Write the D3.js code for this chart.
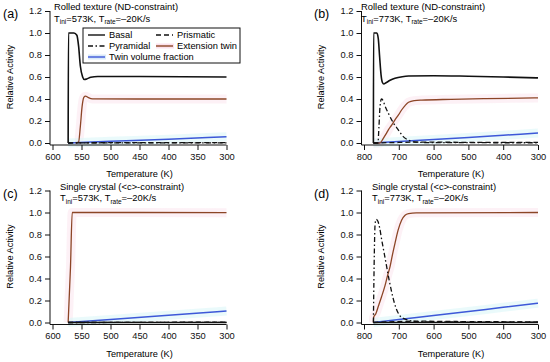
<!DOCTYPE html>
<html>
<head>
<meta charset="utf-8">
<script src="https://cdn.jsdelivr.net/npm/d3@7"></script>
<style>
    body { margin: 0; background: white; }
    svg { font-family: "Liberation Sans", Arial, sans-serif; }
</style>
</head>
<body>
<script>
// values: [temperature K, relative activity]
const aBasal = [[573, 0], [572.5, 1.0], [563, 1.0], [558, 0.98], [555, 0.88], [552, 0.7], [548, 0.6], [545, 0.577], [541, 0.582], [534, 0.598], [522, 0.605], [450, 0.604], [300, 0.6]]
const aPrism = [[573, 0], [540, 0.002], [450, 0.003], [300, 0.003]]
const aPyr = [[573, 0], [540, 0.001], [300, 0.001]]
const aTwin = [[560, 0], [555, 0.01], [552, 0.15], [549, 0.33], [546, 0.415], [543, 0.426], [539, 0.415], [531, 0.401], [450, 0.4], [300, 0.4]]
const aVol = [[573, 0], [500, 0.015], [400, 0.035], [300, 0.056]]

const bBasal = [[773, 0], [772.5, 1.0], [763, 1.0], [759, 0.95], [755, 0.78], [751, 0.62], [747, 0.55], [743, 0.537], [738, 0.545], [725, 0.57], [711, 0.588], [690, 0.603], [672, 0.609], [600, 0.612], [500, 0.607], [400, 0.6], [300, 0.592]]
const bPrism = [[773, 0], [700, 0.005], [650, 0.008], [500, 0.006], [300, 0.005]]
const bPyr = [[773, 0], [760, 0], [757, 0.15], [754, 0.33], [750, 0.4], [746, 0.39], [740, 0.34], [730, 0.27], [715, 0.18], [701, 0.118], [688, 0.06], [673, 0.027], [655, 0.01], [620, 0.004], [300, 0.002]]
const bTwin = [[773, 0], [754, 0], [745, 0.04], [737, 0.08], [730, 0.12], [720, 0.165], [711, 0.21], [700, 0.26], [692, 0.3], [682, 0.34], [672, 0.37], [655, 0.385], [634, 0.39], [550, 0.397], [450, 0.403], [300, 0.41]]
const bVol = [[773, 0], [700, 0.013], [600, 0.031], [500, 0.05], [400, 0.07], [300, 0.09]]

const cBasal = [[573, 0], [300, 0]]
const cPrism = [[573, 0], [300, 0.003]]
const cPyr = [[573, 0], [300, 0.001]]
const cTwin = [[573, 0], [569, 0.5], [566, 1.0], [450, 1.0], [300, 0.998]]
const cVol = [[573, 0], [500, 0.027], [400, 0.065], [300, 0.105]]

const dBasal = [[773, 0], [300, 0]]
const dPrism = [[773, 0], [690, 0.01], [650, 0.012], [500, 0.008], [300, 0.006]]
const dPyr = [[773, 0], [771, 0.5], [768, 0.9], [765, 0.937], [760, 0.92], [755, 0.86], [749, 0.75], [742, 0.63], [735, 0.51], [728, 0.39], [720, 0.27], [712, 0.17], [704, 0.1], [695, 0.055], [685, 0.035], [677, 0.025], [660, 0.012], [620, 0.006], [300, 0.003]]
const dTwin = [[773, 0], [772, 0.05], [766, 0.08], [759, 0.145], [750, 0.23], [740, 0.33], [732, 0.43], [725, 0.51], [718, 0.62], [711, 0.72], [702, 0.84], [692, 0.93], [682, 0.975], [672, 0.99], [650, 0.997], [300, 1.0]]
const dVol = [[773, 0], [700, 0.027], [600, 0.063], [500, 0.1], [400, 0.138], [300, 0.175]]

const yTicks = [0, 0.2, 0.4, 0.6, 0.8, 1.0, 1.2]
const xTicksLow = [600, 550, 500, 450, 400, 350, 300]
const xTicksHigh = [800, 700, 600, 500, 400, 300]

const legendNames = ['Basal', 'Prismatic', 'Pyramidal', 'Extension twin', 'Twin volume fraction']

const brown = '#8c4526'
const blue = '#3d58d8'

const panels = [
    { tag: '(a)', title: 'Rolled texture (ND-constraint)', tini: '573K', dom: [600, 300], ticks: xTicksLow, left: 52.5, right: 226.5, top: 11, bottom: 143, ox: 0, tx: 54, series: [aVol, aTwin, aBasal, aPrism, aPyr], legend: true },
    { tag: '(b)', title: 'Rolled texture (ND-constraint)', tini: '773K', dom: [800, 300], ticks: xTicksHigh, left: 364, right: 538, top: 11, bottom: 143, ox: 311, tx: 361, series: [bVol, bTwin, bBasal, bPrism, bPyr] },
    { tag: '(c)', title: 'Single crystal (<c>-constraint)', tini: '573K', dom: [600, 300], ticks: xTicksLow, left: 52.5, right: 226.5, top: 190.5, bottom: 322.5, ox: 0, tx: 60, series: [cVol, cTwin, cBasal, cPrism, cPyr] },
    { tag: '(d)', title: 'Single crystal (<c>-constraint)', tini: '773K', dom: [800, 300], ticks: xTicksHigh, left: 364, right: 538, top: 190.5, bottom: 322.5, ox: 311, tx: 372, series: [dVol, dTwin, dBasal, dPrism, dPyr] }
]

const svg = d3.select('body').append('svg')
    .attr('width', 550)
    .attr('height', 362)
    .style('background', 'white')

panels.forEach(p => {
    const x = d3.scaleLinear().domain(p.dom).range([p.left, p.right])
    const y = d3.scaleLinear().domain([0, 1.2]).range([p.bottom, p.top])
    const g = svg.append('g')

    const line = d3.line()
        .x(d => x(d[0]))
        .y(d => y(d[1]))
        .curve(d3.curveMonotoneX)

    const [vol, twin, basal, prism, pyr] = p.series

    // faint coloured halos seen round the coloured curves
    g.append('path').attr('d', line(twin)).attr('fill', 'none')
        .attr('stroke', '#fce4ee').attr('stroke-width', 9).attr('opacity', 0.5)
    g.append('path').attr('d', line(vol)).attr('fill', 'none')
        .attr('stroke', '#dcf6f8').attr('stroke-width', 9).attr('opacity', 0.6)

    // axes
    const xAxis = d3.axisBottom(x).tickValues(p.ticks).tickSize(5).tickPadding(3).tickFormat(d3.format('d'))
    const yAxis = d3.axisLeft(y).tickValues(yTicks).tickSize(5).tickPadding(3).tickFormat(d3.format('.1f'))

    const gx = g.append('g')
        .attr('transform', `translate(0, ${p.bottom + 2})`)
        .call(xAxis)
    gx.select('.domain').attr('d', `M${p.left - 2.5},0H${p.right}`)

    const gy = g.append('g')
        .attr('transform', `translate(${p.left - 2.5}, 0)`)
        .call(yAxis)
    gy.select('.domain').attr('d', `M0,${p.top}V${p.bottom + 2}`)

    g.selectAll('.tick text').attr('font-size', 9.3).attr('fill', '#111')
    g.selectAll('.domain, .tick line').attr('stroke', '#111')

    // curves
    g.append('path').attr('d', line(vol)).attr('fill', 'none')
        .attr('stroke', blue).attr('stroke-width', 1.5)
    g.append('path').attr('d', line(twin)).attr('fill', 'none')
        .attr('stroke', brown).attr('stroke-width', 1.3)
    g.append('path').attr('d', line(prism)).attr('fill', 'none')
        .attr('stroke', '#111').attr('stroke-width', 1.3).attr('stroke-dasharray', '5,3')
    g.append('path').attr('d', line(pyr)).attr('fill', 'none')
        .attr('stroke', '#111').attr('stroke-width', 1.3).attr('stroke-dasharray', '5,2.5,1.5,2.5')
    g.append('path').attr('d', line(basal)).attr('fill', 'none')
        .attr('stroke', '#111').attr('stroke-width', 1.6)

    // labels
    g.append('text')
        .attr('x', p.ox + 3)
        .attr('y', p.top + 7)
        .attr('font-size', 12.5)
        .text(p.tag)

    g.append('text')
        .attr('x', p.tx)
        .attr('y', p.top - 1)
        .attr('font-size', 9.4)
        .text(p.title)

    const sub = g.append('text')
        .attr('x', p.tx)
        .attr('y', p.top + 10.5)
        .attr('font-size', 9.4)
    sub.append('tspan').text('T')
    sub.append('tspan').attr('font-size', 6.5).attr('dy', 2.5).text('ini')
    sub.append('tspan').attr('dy', -2.5).text('=' + p.tini + ', T')
    sub.append('tspan').attr('font-size', 6.5).attr('dy', 2.5).text('rate')
    sub.append('tspan').attr('dy', -2.5).text('=–20K/s')

    g.append('text')
        .attr('x', (p.left + p.right) / 2)
        .attr('y', p.bottom + 34)
        .attr('text-anchor', 'middle')
        .attr('font-size', 9.2)
        .text('Temperature (K)')

    g.append('text')
        .attr('transform', `translate(${p.ox + 13}, ${(p.top + p.bottom) / 2}) rotate(-90)`)
        .attr('text-anchor', 'middle')
        .attr('font-size', 9.2)
        .text('Relative Activity')

    if (p.legend) {
        const lg = g.append('g')
        lg.append('rect')
            .attr('x', 83).attr('y', 28)
            .attr('width', 157).attr('height', 35)
            .attr('fill', 'white').attr('stroke', '#111').attr('stroke-width', 1)

        const items = [
            { name: legendNames[0], lx: 88, ly: 35, stroke: '#111', dash: null },
            { name: legendNames[1], lx: 156, ly: 35, stroke: '#111', dash: '5,3' },
            { name: legendNames[2], lx: 88, ly: 46, stroke: '#111', dash: '5,2.5,1.5,2.5' },
            { name: legendNames[3], lx: 156, ly: 46, stroke: brown, dash: null, halo: '#fbe1ec' },
            { name: legendNames[4], lx: 88, ly: 57, stroke: blue, dash: null, halo: '#d9e9f8' }
        ]
        items.forEach(it => {
            if (it.halo) {
                lg.append('line')
                    .attr('x1', it.lx).attr('x2', it.lx + 18)
                    .attr('y1', it.ly).attr('y2', it.ly)
                    .attr('stroke', it.halo).attr('stroke-width', 5)
            }
            lg.append('line')
                .attr('x1', it.lx).attr('x2', it.lx + 17)
                .attr('y1', it.ly).attr('y2', it.ly)
                .attr('stroke', it.stroke).attr('stroke-width', 1.4)
                .attr('stroke-dasharray', it.dash)
            lg.append('text')
                .attr('x', it.lx + 21)
                .attr('y', it.ly + 3.3)
                .attr('font-size', 9.3)
                .text(it.name)
        })
    }
})
</script>
</body>
</html>
